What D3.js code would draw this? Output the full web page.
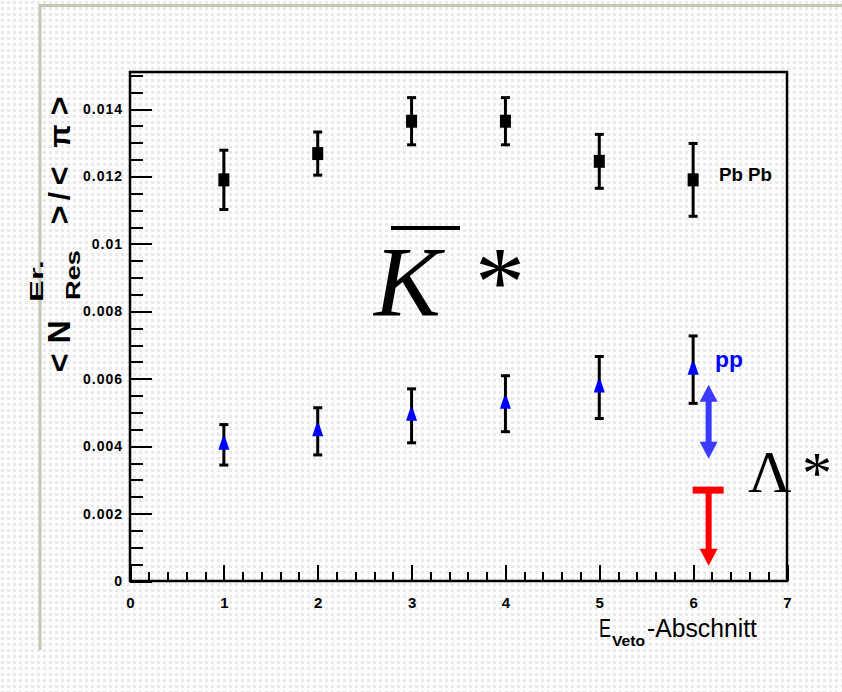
<!DOCTYPE html>
<html lang="en">
<head>
<meta charset="utf-8">
<title>K* / Lambda* ratio per Veto section</title>
<script src="https://cdn.jsdelivr.net/npm/d3@7/dist/d3.min.js"></script>
<style>
body { margin: 0; background: #fff; }
.tick line { stroke: #000; stroke-width: 2; shape-rendering: crispEdges; }
.tick text { font-family: "Liberation Sans", Arial, sans-serif; font-weight: bold; fill: #000; }
.lbl { font-family: "Liberation Sans", Arial, sans-serif; }
.serif { font-family: "Liberation Serif", "Times New Roman", serif; }
</style>
</head>
<body>
<script>
// Veto sections (x) and the two series
var sections = [1, 2, 3, 4, 5, 6];
var pbpb     = [0.0119, 0.01268, 0.01364, 0.01364, 0.01245, 0.0119];
var pbpbErr  = [0.00088, 0.00064, 0.0007, 0.0007, 0.0008, 0.00108];
var pp       = [0.00404, 0.00444, 0.0049, 0.00526, 0.00574, 0.00627];
var ppErr    = [0.0006, 0.0007, 0.0008, 0.00083, 0.00092, 0.001];

var xTicks = [0, 1, 2, 3, 4, 5, 6, 7];
var yTicks = [0, 0.002, 0.004, 0.006, 0.008, 0.01, 0.012, 0.014];
var yTickLabels = ["0", "0.002", "0.004", "0.006", "0.008", "0.01", "0.012", "0.014"];

var W = 842, H = 692;
var padL = 130, padR = 787, padT = 72, padB = 581;

var svg = d3.select("body").append("svg")
  .attr("width", W).attr("height", H);

// dotted background like the original slide
var defs = svg.append("defs");
var pat = defs.append("pattern").attr("id", "dots")
  .attr("patternUnits", "userSpaceOnUse").attr("width", 6).attr("height", 6);
pat.append("rect").attr("width", 6).attr("height", 6).attr("fill", "#fdfdfd");
pat.append("rect").attr("x", 1).attr("y", 1).attr("width", 3).attr("height", 3).attr("fill", "#e9e9e9");
svg.append("rect").attr("width", W).attr("height", H).attr("fill", "url(#dots)");

// slide border
svg.append("path")
  .attr("d", "M40,650 V5.5 H842")
  .attr("fill", "none").attr("stroke", "#c3c7b3").attr("stroke-width", 3);

var x = d3.scaleLinear().domain([0, 7]).range([padL, padR]);
var y = d3.scaleLinear().domain([0, 0.0151]).range([padB, padT]);

// minor ticks
svg.append("g").attr("transform", "translate(" + padL + ",0)")
  .call(d3.axisLeft(y).tickValues(d3.range(0, 31).map(function (i) { return i * 0.0005; }))
    .tickSize(-13).tickFormat(""))
  .call(function (g) { g.select(".domain").remove(); });
svg.append("g").attr("transform", "translate(0," + padB + ")")
  .call(d3.axisBottom(x).tickValues(d3.range(0, 36).map(function (i) { return i * 0.2; }))
    .tickSize(-9).tickFormat(""))
  .call(function (g) { g.select(".domain").remove(); });

// major ticks + labels
var yAxis = svg.append("g").attr("transform", "translate(" + padL + ",0)")
  .call(d3.axisLeft(y).tickValues(yTicks).tickSize(-22).tickPadding(7)
    .tickFormat(function (d, i) { return yTickLabels[i]; }))
  .call(function (g) { g.select(".domain").remove(); });
yAxis.selectAll("text").attr("font-size", 14).style("letter-spacing", "1px");

var xAxis = svg.append("g").attr("transform", "translate(0," + padB + ")")
  .call(d3.axisBottom(x).tickValues(xTicks).tickSize(-16).tickPadding(16)
    .tickFormat(d3.format("d")))
  .call(function (g) { g.select(".domain").remove(); });
xAxis.selectAll("text").attr("font-size", 15);

// frame
svg.append("rect")
  .attr("x", padL).attr("y", padT).attr("width", padR - padL).attr("height", padB - padT)
  .attr("fill", "none").attr("stroke", "#000").attr("stroke-width", 2.5);

// error bars
function errorBars(vals, errs) {
  var g = svg.append("g");
  sections.forEach(function (s, i) {
    var cx = x(s), y1 = y(vals[i] + errs[i]), y0 = y(vals[i] - errs[i]);
    g.append("line").attr("x1", cx).attr("x2", cx).attr("y1", y1).attr("y2", y0)
      .attr("stroke", "#000").attr("stroke-width", 3);
    [y1, y0].forEach(function (yy) {
      g.append("line").attr("x1", cx - 4.5).attr("x2", cx + 4.5).attr("y1", yy).attr("y2", yy)
        .attr("stroke", "#000").attr("stroke-width", 3);
    });
  });
}
errorBars(pbpb, pbpbErr);
errorBars(pp, ppErr);

// Pb-Pb squares
svg.append("g").selectAll("rect").data(pbpb).enter().append("rect")
  .attr("x", function (d, i) { return x(sections[i]) - 5.5; })
  .attr("y", function (d) { return y(d) - 6.5; })
  .attr("width", 11).attr("height", 13).attr("fill", "#000");

// pp triangles
svg.append("g").selectAll("path").data(pp).enter().append("path")
  .attr("transform", function (d, i) { return "translate(" + x(sections[i]) + "," + y(d) + ")"; })
  .attr("d", "M-1.5,-7 L1.5,-7 L5.5,5 L-5.5,5 Z")
  .attr("fill", "#0000ff");

// series labels
svg.append("text").attr("class", "lbl").attr("x", 719).attr("y", 181)
  .attr("font-size", 19).attr("font-weight", "bold")
  .attr("textLength", 53).attr("lengthAdjust", "spacingAndGlyphs")
  .text("Pb Pb");
svg.append("text").attr("class", "lbl").attr("x", 715).attr("y", 367)
  .attr("font-size", 22).attr("font-weight", "bold").attr("fill", "#0000ff")
  .attr("textLength", 28).attr("lengthAdjust", "spacingAndGlyphs")
  .text("pp");

// K-bar star
svg.append("text").attr("class", "serif").attr("x", 374).attr("y", 315)
  .attr("font-size", 100).attr("font-style", "italic").text("K");
svg.append("line").attr("x1", 391).attr("x2", 460).attr("y1", 228).attr("y2", 228)
  .attr("stroke", "#000").attr("stroke-width", 4);
svg.append("text").attr("class", "serif").attr("x", 475).attr("y", 315)
  .attr("font-size", 100).text("*");

// Lambda star
svg.append("text").attr("class", "serif").attr("x", 748).attr("y", 492)
  .attr("font-size", 60).text("\u039B");
svg.append("text").attr("class", "serif").attr("x", 802).attr("y", 493)
  .attr("font-size", 60).text("*");

// arrows (in data units)
var ax = x(6.165);
function arrowHead(g, tipY, dir, color) {
  // dir = -1 points up, +1 points down
  g.append("path")
    .attr("d", "M" + ax + "," + tipY + " L" + (ax - 9) + "," + (tipY - dir * 17) +
      " L" + (ax + 9) + "," + (tipY - dir * 17) + " Z")
    .attr("fill", color);
}
var blue = svg.append("g");
var bTop = y(0.00582), bBot = y(0.00363);
blue.append("line").attr("x1", ax).attr("x2", ax).attr("y1", bTop + 12).attr("y2", bBot - 12)
  .attr("stroke", "#3b3bff").attr("stroke-width", 6);
arrowHead(blue, bTop, -1, "#3b3bff");
arrowHead(blue, bBot, 1, "#3b3bff");

var red = svg.append("g");
var rTop = y(0.0028), rBot = y(0.00045);
red.append("rect").attr("x", ax - 16).attr("y", rTop).attr("width", 31).attr("height", 7)
  .attr("fill", "#ff0000");
red.append("line").attr("x1", ax).attr("x2", ax).attr("y1", rTop + 5).attr("y2", rBot - 12)
  .attr("stroke", "#ff0000").attr("stroke-width", 6);
arrowHead(red, rBot, 1, "#ff0000");

// x axis title
var xt = svg.append("g").attr("class", "lbl");
xt.append("text").attr("x", 599).attr("y", 637).attr("font-size", 26)
  .attr("textLength", 12).attr("lengthAdjust", "spacingAndGlyphs").text("E");
xt.append("text").attr("x", 612).attr("y", 646).attr("font-size", 15).attr("font-weight", "bold")
  .attr("textLength", 33).attr("lengthAdjust", "spacingAndGlyphs").text("Veto");
xt.append("text").attr("x", 647).attr("y", 637).attr("font-size", 26)
  .attr("textLength", 110).attr("lengthAdjust", "spacingAndGlyphs").text("-Abschnitt");

// y axis title, built glyph by glyph (rotated)
var yParts = [
  { t: "<", bx: 70, cy: 363, fs: 32 },
  { t: "N", bx: 70, cy: 332, fs: 32 },
  { t: "Er.", bx: 43, cy: 281, fs: 18, len: 42 },
  { t: "Res", bx: 80, cy: 275, fs: 20, len: 50 },
  { t: ">", bx: 70, cy: 215, fs: 32 },
  { t: "/", bx: 70, cy: 196, fs: 30 },
  { t: "<", bx: 70, cy: 176, fs: 32 },
  { t: "\u03C0", bx: 70, cy: 136, fs: 30 },
  { t: ">", bx: 70, cy: 106, fs: 32 }
];
yParts.forEach(function (p) {
  var t = svg.append("text").attr("class", "lbl")
    .attr("transform", "translate(" + p.bx + "," + p.cy + ") rotate(-90)")
    .attr("text-anchor", "middle").attr("font-weight", "bold")
    .attr("font-size", p.fs).text(p.t);
  if (p.len) t.attr("textLength", p.len).attr("lengthAdjust", "spacingAndGlyphs");
});
</script>
</body>
</html>
